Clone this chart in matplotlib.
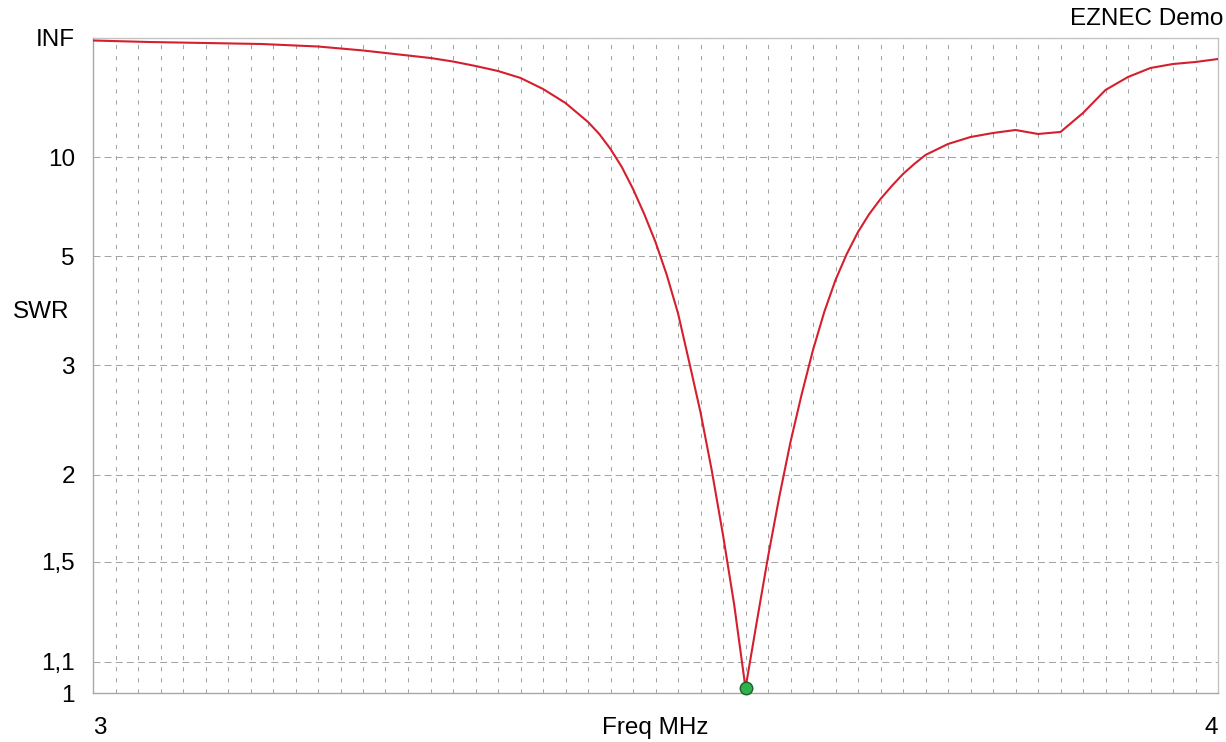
import numpy as np
import matplotlib
matplotlib.use("Agg")
import matplotlib.pyplot as plt

# ---- data ----
freq = [3.00, 3.05, 3.10, 3.15, 3.20, 3.22, 3.24, 3.26, 3.28, 3.30,
        3.32, 3.34, 3.36, 3.38, 3.40, 3.42, 3.44, 3.45, 3.46, 3.47,
        3.48, 3.49, 3.50, 3.51, 3.52, 3.53, 3.54, 3.55, 3.56, 3.57,
        3.58, 3.59, 3.60, 3.61, 3.62, 3.63, 3.64, 3.65, 3.66, 3.67,
        3.68, 3.69, 3.70, 3.71, 3.72, 3.73, 3.74, 3.76, 3.78, 3.80,
        3.82, 3.84, 3.86, 3.88, 3.90, 3.92, 3.94, 3.96, 3.98, 4.00]
swr = [523, 326, 261, 217, 153, 124, 104, 86.3, 73.9, 64.5,
       54.7, 45.8, 38.7, 31.8, 24.7, 19.15, 14.6, 12.65, 10.8, 9.16,
       7.68, 6.44, 5.42, 4.53, 3.76, 3.04, 2.50, 2.03, 1.636, 1.310,
       1.015, 1.243, 1.524, 1.854, 2.243, 2.680, 3.199, 3.781, 4.413, 5.065,
       5.753, 6.443, 7.137, 7.851, 8.632, 9.397, 10.20, 11.36, 12.23, 12.79,
       13.24, 12.65, 12.94, 16.47, 24.2, 32.6, 42.7, 49.4, 53.6, 61.4]
min_freq = 3.58
min_swr = 1.015

y_ticks = [1, 1.1, 1.5, 2, 3, 5, 10, 1e9]
y_tick_labels = ["1", "1,1", "1,5", "2", "3", "5", "10", "INF"]
x_ticks = [3, 4]
x_tick_labels = ["3", "4"]
grid_step = 0.02

plt.rcParams["font.family"] = ["Liberation Sans", "DejaVu Sans"]
plt.rcParams["lines.scale_dashes"] = False


def fwd(s):
    s = np.asarray(s, dtype=float)
    return (s - 1.0) / (s + 1.0)


def inv(r):
    r = np.clip(np.asarray(r, dtype=float), -0.99, 1 - 1e-12)
    return (1.0 + r) / (1.0 - r)


fig = plt.figure(figsize=(12.26, 7.42), dpi=100)
ax = fig.add_axes([93 / 1226, 1 - 693 / 742, 1125 / 1226, 655 / 742])
ax.set_yscale("function", functions=(fwd, inv))

ax.plot(freq, swr, color="#d41f2e", lw=1.5, zorder=3)
ax.plot([min_freq], [min_swr], "o", ms=9, mfc="#2eb34c", mec="#1d5f24",
        mew=1.0, zorder=4, clip_on=False)

ax.set_xlim(3, 4)
ax.set_ylim(1, 1e9)

ax.set_yticks(y_ticks)
ax.set_yticklabels(y_tick_labels)
ax.yaxis.set_minor_locator(matplotlib.ticker.NullLocator())
ax.set_xticks(x_ticks)
ax.set_xticklabels(x_tick_labels)
n = int(round((x_ticks[1] - x_ticks[0]) / grid_step))
ax.set_xticks([x_ticks[0] + grid_step * i for i in range(1, n)], minor=True)

ax.tick_params(axis="both", which="both", length=0, labelsize=17.5,
               colors="#000000")
ax.tick_params(axis="y", pad=13)
ax.tick_params(axis="x", pad=17.5)
xl = ax.get_xticklabels()
xl[0].set_ha("left")
xl[1].set_ha("right")

ax.set_axisbelow(True)
ax.grid(axis="x", which="minor", color="#a4a4a4", lw=0.75,
        linestyle=(0, (3, 5)))
ax.grid(axis="y", which="major", color="#a4a4a4", lw=0.75,
        linestyle=(0, (5, 3)))
ax.grid(axis="x", which="major", visible=False)

for side in ["left", "bottom"]:
    ax.spines[side].set_color("#a8a8a8")
    ax.spines[side].set_linewidth(1.0)
for side in ["top", "right"]:
    ax.spines[side].set_color("#c4c4c4")
    ax.spines[side].set_linewidth(1.0)

ax.set_xlabel("Freq MHz", fontsize=17.5)
ax.xaxis.set_label_coords(0.5, (693 - 734) / 655)
ax.xaxis.label.set_va("baseline")
ax.set_ylabel("SWR", fontsize=17.5, rotation=0)
ax.yaxis.set_label_coords((41.5 - 93) / 1125, (693 - 312.5) / 655)
ax.yaxis.label.set_va("center")
ax.yaxis.label.set_ha("center")

fig.text(1223 / 1226, 1 - 25 / 742, "EZNEC Demo", ha="right", va="baseline",
         fontsize=17.5)

fig.savefig("out.png", dpi=100)
